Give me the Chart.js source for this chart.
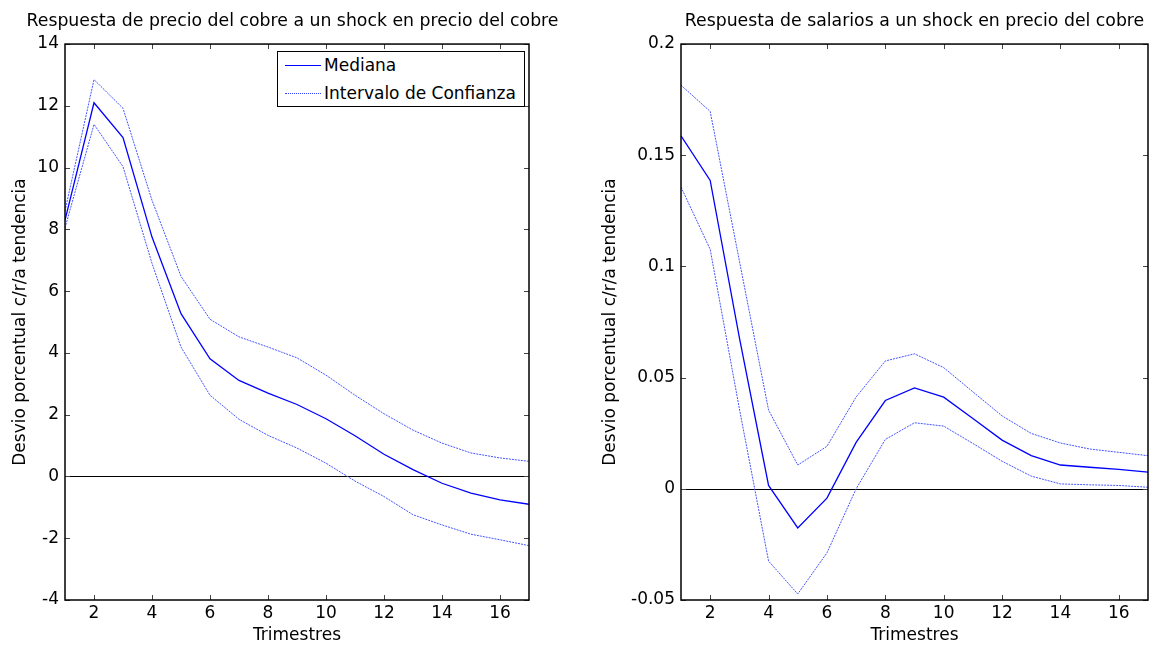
<!DOCTYPE html>
<html>
<head>
<meta charset="utf-8">
<script src="https://cdn.jsdelivr.net/npm/chart.js@4.4.0/dist/chart.umd.min.js"></script>
<style>
  body { margin: 0; background: #fff; width: 1163px; height: 645px; position: relative; overflow: hidden; }
  canvas { position: absolute; top: 0; }
  #izq { left: 0; }
  #der { left: 590px; }
  .leyenda { position: absolute; left: 277px; top: 51px; width: 248px; height: 56px; box-sizing: border-box;
    border: 1px solid #000; background: #fff; font-family: "DejaVu Sans"; font-size: 17px; color: #000; }
  .leyenda .fila { position: absolute; left: 0; height: 20px; line-height: 20px; white-space: nowrap; }
  .leyenda .muestra { position: absolute; left: 7px; top: 10px; width: 36px; height: 0; }
  .leyenda .txt { position: absolute; left: 46px; top: 0; }
</style>
</head>
<body>
<canvas id="izq" width="585" height="645"></canvas>
<canvas id="der" width="573" height="645"></canvas>
<div class="leyenda">
  <div class="fila" style="top:3px"><span class="muestra" style="border-top:1.3px solid #0000ff"></span><span class="txt">Mediana</span></div>
  <div class="fila" style="top:31px"><span class="muestra" style="border-top:1px dotted #3344ff"></span><span class="txt">Intervalo de Confianza</span></div>
</div>
<script>
//datos
var trimestres = [1, 2, 3, 4, 5, 6, 7, 8, 9, 10, 11, 12, 13, 14, 15, 16, 17];
var xTicks = [2, 4, 6, 8, 10, 12, 14, 16];

//precio del cobre
var cobreMediana = [8.3, 12.1, 10.97, 7.75, 5.27, 3.81, 3.11, 2.70, 2.33, 1.87, 1.32, 0.72, 0.22, -0.22, -0.54, -0.76, -0.9];
var cobreSup = [8.6, 12.85, 11.92, 8.94, 6.48, 5.09, 4.52, 4.19, 3.84, 3.28, 2.63, 2.03, 1.5, 1.08, 0.76, 0.6, 0.49];
var cobreInf = [8.05, 11.4, 10.03, 6.9, 4.19, 2.63, 1.85, 1.33, 0.92, 0.43, -0.15, -0.65, -1.24, -1.57, -1.87, -2.05, -2.24];
var cobreYTicks = [-4, -2, 0, 2, 4, 6, 8, 10, 12, 14];
var cobreYLabels = ['-4', '-2', '0', '2', '4', '6', '8', '10', '12', '14'];

//salarios
var salMediana = [0.1587, 0.1387, 0.068, 0.0015, -0.0176, -0.0042, 0.0209, 0.0397, 0.0454, 0.0412, 0.0316, 0.0219, 0.0149, 0.0107, 0.0097, 0.0087, 0.0075];
var salSup = [0.1815, 0.1697, 0.1025, 0.0354, 0.0107, 0.0191, 0.0413, 0.0575, 0.0607, 0.0545, 0.0436, 0.0328, 0.0249, 0.0206, 0.0179, 0.0164, 0.0149];
var salInf = [0.1357, 0.1077, 0.036, -0.0325, -0.0473, -0.0288, 0.0, 0.0222, 0.0297, 0.0282, 0.0204, 0.0124, 0.0057, 0.0022, 0.0018, 0.0015, 0.0007];
var salYTicks = [-0.05, 0, 0.05, 0.1, 0.15, 0.2];
var salYLabels = ['-0.05', '0', '0.05', '0.1', '0.15', '0.2'];

var fuente = 'DejaVu Sans';

function puntos(valores) {
	return trimestres.map(function (t, i) { return { x: t, y: valores[i] }; });
}

//marco, ticks hacia adentro y linea de cero (estilo matlab)
var marco = {
	id: 'marco',
	beforeDatasetsDraw: function (chart) {
		var ctx = chart.ctx, a = chart.chartArea;
		var y0 = Math.round(chart.scales.y.getPixelForValue(0)) + 0.5;
		ctx.save();
		ctx.strokeStyle = '#000';
		ctx.lineWidth = 1;
		ctx.beginPath();
		ctx.moveTo(a.left, y0);
		ctx.lineTo(a.right, y0);
		ctx.stroke();
		ctx.restore();
	},
	afterDatasetsDraw: function (chart) {
		var ctx = chart.ctx, a = chart.chartArea;
		var xs = chart.scales.x, ys = chart.scales.y;
		var largo = 5;
		ctx.save();
		ctx.strokeStyle = '#444';
		ctx.lineWidth = 1;
		ctx.beginPath();
		xs.ticks.forEach(function (t) {
			var px = Math.round(xs.getPixelForValue(t.value)) + 0.5;
			ctx.moveTo(px, a.bottom); ctx.lineTo(px, a.bottom - largo);
			ctx.moveTo(px, a.top); ctx.lineTo(px, a.top + largo);
		});
		ys.ticks.forEach(function (t) {
			var py = Math.round(ys.getPixelForValue(t.value)) + 0.5;
			ctx.moveTo(a.left, py); ctx.lineTo(a.left + largo, py);
			ctx.moveTo(a.right, py); ctx.lineTo(a.right - largo, py);
		});
		ctx.stroke();
		ctx.strokeStyle = '#000';
		ctx.lineWidth = 1.5;
		ctx.strokeRect(a.left, a.top, a.right - a.left, a.bottom - a.top);
		ctx.restore();
	}
};

function grafico(id, titulo, mediana, sup, inf, yMin, yMax, yTicks, yLabels, anchoEje, anchoDer, tituloCompleto) {
	var banda = {
		borderColor: '#4455ff',
		borderWidth: 1,
		borderDash: [2, 1],
		pointRadius: 0,
		tension: 0,
		fill: false
	};
	return new Chart(document.getElementById(id), {
		type: 'line',
		data: {
			datasets: [
				{ label: 'Mediana', data: puntos(mediana), borderColor: '#0000ff', borderWidth: 1.3, pointRadius: 0, tension: 0, fill: false },
				Object.assign({ label: 'Intervalo de Confianza', data: puntos(sup) }, banda),
				Object.assign({ label: 'Inferior', data: puntos(inf) }, banda)
			]
		},
		plugins: [marco],
		options: {
			responsive: false,
			animation: false,
			layout: { padding: 0 },
			plugins: {
				legend: { display: false },
				tooltip: { enabled: false },
				title: {
					display: true,
					text: titulo,
					fullSize: tituloCompleto,
					color: '#000',
					font: { family: fuente, size: 17.3, weight: 'normal' },
					padding: { top: 11, bottom: 12.3 }
				}
			},
			scales: {
				x: {
					type: 'linear',
					min: 1,
					max: 17,
					grid: { display: false, drawTicks: false },
					border: { display: false },
					afterFit: function (s) { s.height = 45; },
					afterBuildTicks: function (s) { s.ticks = xTicks.map(function (v) { return { value: v }; }); },
					ticks: { color: '#000', padding: 3, maxRotation: 0, font: { family: fuente, size: 17 } },
					title: { display: true, text: 'Trimestres', color: '#000', padding: { top: 0, bottom: 0.5 }, font: { family: fuente, size: 17, lineHeight: 1 } }
				},
				y: {
					min: yMin,
					max: yMax,
					grid: { display: false, drawTicks: false },
					border: { display: false },
					afterFit: function (s) { s.width = anchoEje; },
					afterBuildTicks: function (s) { s.ticks = yTicks.map(function (v) { return { value: v }; }); },
					ticks: {
						color: '#000',
						padding: 6,
						font: { family: fuente, size: 17 },
						callback: function (v, i) { return yLabels[i]; }
					},
					title: { display: true, text: 'Desvio porcentual c/r/a tendencia', color: '#000', padding: { top: 10, bottom: 0 }, font: { family: fuente, size: 17 } }
				},
				//eje vacio a la derecha, solo para reservar margen
				margen: {
					position: 'right',
					min: 0,
					max: 1,
					grid: { display: false, drawTicks: false },
					border: { display: false },
					ticks: { display: false },
					afterFit: function (s) { s.width = anchoDer; }
				}
			}
		}
	});
}

grafico('izq', 'Respuesta de precio del cobre a un shock en precio del cobre', cobreMediana, cobreSup, cobreInf, -4, 14, cobreYTicks, cobreYLabels, 65, 56, true);
grafico('der', 'Respuesta de salarios a un shock en precio del cobre', salMediana, salSup, salInf, -0.05, 0.2, salYTicks, salYLabels, 91, 15, false);
</script>
</body>
</html>
